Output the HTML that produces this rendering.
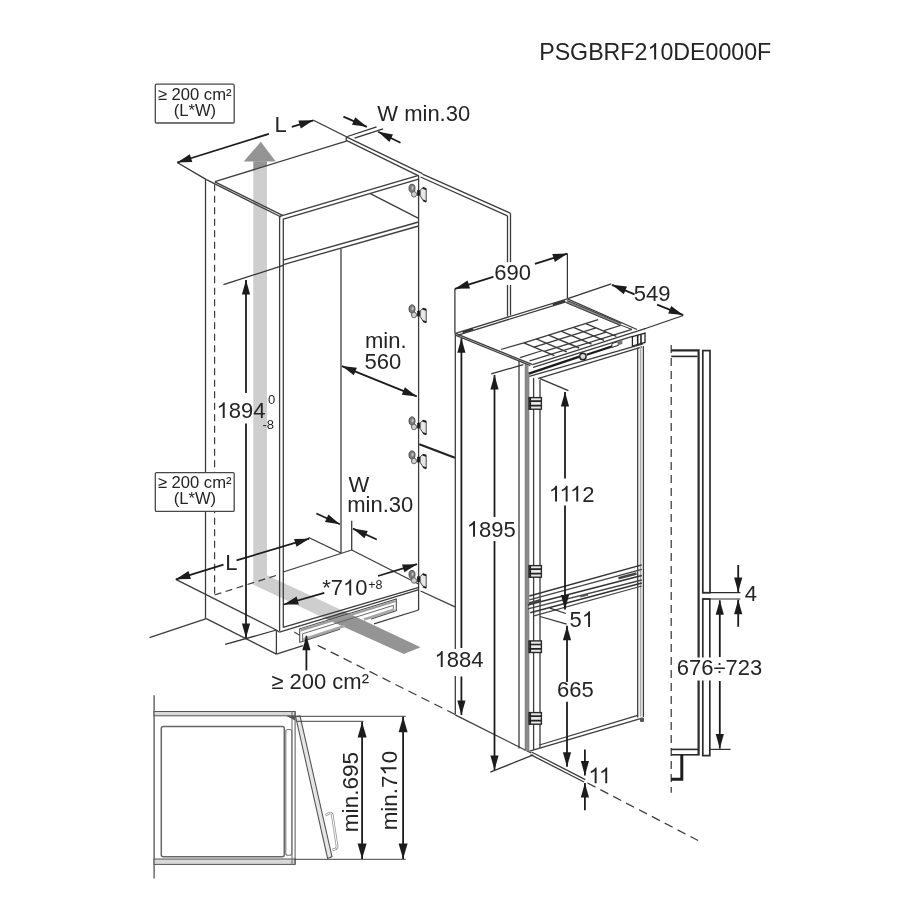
<!DOCTYPE html>
<html><head><meta charset="utf-8"><title>PSGBRF210DE0000F</title>
<style>html,body{margin:0;padding:0;background:#fff;}svg{display:block;font-family:"Liberation Sans",sans-serif;will-change:transform;transform:translateZ(0);filter:blur(0.45px);}</style></head>
<body><svg width="922" height="922" viewBox="0 0 922 922">
<rect width="922" height="922" fill="#fff"/>
<polygon points="260.8,141.8 275.7,161.6 243.7,161.6" fill="#949494"/>
<polygon points="253.3,161.2 267.0,161.2 267.0,165.6 253.3,169.9" fill="#949494"/>
<polygon points="253.3,169.9 267.0,165.6 267.0,575.2 253.3,584.7" fill="#cecece"/>
<polygon points="267.0,575.2 344.6,611.5 324.6,618.2 253.3,584.7" fill="#cecece"/>
<polygon points="344.6,611.5 420.6,647.3 403.9,654.1 324.6,618.2" fill="#949494"/>
<g><text x="539.20" y="59.6" font-size="23.2" fill="#242424">PSGBRF2</text><path class="g1" d="M763,0 L583,0 L583,-1147 Q518,-1085 412.5,-1023 Q307,-961 223,-930 L223,-1104 Q374,-1175 487,-1276 Q600,-1377 647,-1472 L763,-1472 Z" fill="#242424" transform="translate(647.50 59.6) scale(0.01133)"/><text x="660.40" y="59.6" font-size="23.2" fill="#242424">0DE0000F</text></g>
<line x1="177.2" y1="162.5" x2="206.4" y2="179.6" stroke="#333" stroke-width="1.25" stroke-linecap="butt"/>
<line x1="313.5" y1="120.3" x2="347.4" y2="137.2" stroke="#333" stroke-width="1.25" stroke-linecap="butt"/>
<line x1="206.4" y1="179.6" x2="281.0" y2="217.0" stroke="#3c3c3c" stroke-width="1.3" stroke-linecap="butt"/>
<line x1="214.9" y1="181.8" x2="283.0" y2="215.6" stroke="#3c3c3c" stroke-width="1.3" stroke-linecap="butt"/>
<line x1="214.9" y1="181.6" x2="346.3" y2="141.2" stroke="#3c3c3c" stroke-width="1.3" stroke-linecap="butt"/>
<line x1="346.3" y1="137.0" x2="346.3" y2="141.6" stroke="#3c3c3c" stroke-width="1.3" stroke-linecap="butt"/>
<line x1="346.8" y1="137.2" x2="422.5" y2="173.6" stroke="#3c3c3c" stroke-width="1.3" stroke-linecap="butt"/>
<line x1="346.8" y1="140.6" x2="418.6" y2="175.8" stroke="#3c3c3c" stroke-width="1.3" stroke-linecap="butt"/>
<line x1="205.5" y1="179.8" x2="205.5" y2="618.6" stroke="#3c3c3c" stroke-width="1.3" stroke-linecap="butt"/>
<line x1="214.6" y1="184.2" x2="214.6" y2="595.0" stroke="#3c3c3c" stroke-width="1.2" stroke-dasharray="7 4.5" stroke-linecap="butt"/>
<line x1="279.6" y1="216.2" x2="279.6" y2="631.0" stroke="#3c3c3c" stroke-width="1.3" stroke-linecap="butt"/>
<line x1="283.3" y1="218.8" x2="283.3" y2="627.6" stroke="#3c3c3c" stroke-width="1.3" stroke-linecap="butt"/>
<line x1="418.6" y1="175.4" x2="418.6" y2="610.0" stroke="#3c3c3c" stroke-width="1.3" stroke-linecap="butt"/>
<line x1="279.6" y1="216.4" x2="418.6" y2="175.4" stroke="#3c3c3c" stroke-width="1.3" stroke-linecap="butt"/>
<line x1="283.3" y1="219.2" x2="418.6" y2="179.2" stroke="#3c3c3c" stroke-width="1.3" stroke-linecap="butt"/>
<line x1="370.3" y1="193.7" x2="418.6" y2="218.3" stroke="#3c3c3c" stroke-width="1.3" stroke-linecap="butt"/>
<line x1="283.3" y1="260.2" x2="418.6" y2="222.0" stroke="#3c3c3c" stroke-width="1.3" stroke-linecap="butt"/>
<line x1="223.5" y1="284.7" x2="283.3" y2="265.3" stroke="#333" stroke-width="1.25" stroke-linecap="butt"/>
<line x1="283.3" y1="264.6" x2="418.6" y2="226.0" stroke="#3c3c3c" stroke-width="1.3" stroke-linecap="butt"/>
<line x1="341.0" y1="249.0" x2="341.0" y2="553.0" stroke="#3c3c3c" stroke-width="1.3" stroke-linecap="butt"/>
<line x1="351.7" y1="520.8" x2="351.7" y2="550.0" stroke="#3c3c3c" stroke-width="1.3" stroke-linecap="butt"/>
<line x1="283.3" y1="572.0" x2="351.7" y2="550.0" stroke="#3c3c3c" stroke-width="1.3" stroke-linecap="butt"/>
<line x1="351.7" y1="550.0" x2="418.6" y2="584.0" stroke="#3c3c3c" stroke-width="1.3" stroke-linecap="butt"/>
<line x1="308.6" y1="537.5" x2="341.0" y2="553.0" stroke="#333" stroke-width="1.25" stroke-linecap="butt"/>
<line x1="283.1" y1="627.3" x2="418.9" y2="587.4" stroke="#3c3c3c" stroke-width="1.3" stroke-linecap="butt"/>
<line x1="279.5" y1="632.2" x2="418.9" y2="589.7" stroke="#3c3c3c" stroke-width="1.3" stroke-linecap="butt"/>
<line x1="206.3" y1="618.6" x2="276.4" y2="654.1" stroke="#3c3c3c" stroke-width="1.3" stroke-linecap="butt"/>
<line x1="175.8" y1="579.3" x2="276.4" y2="630.0" stroke="#3c3c3c" stroke-width="1.3" stroke-linecap="butt"/>
<line x1="276.4" y1="630.0" x2="276.4" y2="654.1" stroke="#3c3c3c" stroke-width="1.3" stroke-linecap="butt"/>
<line x1="276.4" y1="630.0" x2="279.5" y2="632.2" stroke="#3c3c3c" stroke-width="1.3" stroke-linecap="butt"/>
<line x1="276.4" y1="654.1" x2="303.0" y2="645.7" stroke="#3c3c3c" stroke-width="1.3" stroke-linecap="butt"/>
<line x1="374.0" y1="623.8" x2="418.6" y2="610.0" stroke="#3c3c3c" stroke-width="1.3" stroke-linecap="butt"/>
<line x1="206.3" y1="618.6" x2="149.5" y2="637.7" stroke="#3c3c3c" stroke-width="1.3" stroke-linecap="butt"/>
<line x1="225.2" y1="644.4" x2="276.4" y2="630.0" stroke="#333" stroke-width="1.25" stroke-linecap="butt"/>
<line x1="214.6" y1="595.0" x2="280.0" y2="574.2" stroke="#3c3c3c" stroke-width="1.2" stroke-dasharray="7 4.5" stroke-linecap="butt"/>
<polyline points="299.7,642.4 299.7,628.8 396.3,598.9 396.3,611.1" fill="none" stroke="#4a4a4a" stroke-width="1.1" stroke-linejoin="miter"/>
<line x1="300.6" y1="630.4" x2="395.6" y2="601.0" stroke="#9c9c9c" stroke-width="2.2" stroke-linecap="butt"/>
<polyline points="302.6,640.8 302.6,633.8 393.4,605.4 393.4,611.6" fill="none" stroke="#666" stroke-width="1.0" stroke-linejoin="miter"/>
<line x1="303.2" y1="639.4" x2="345.0" y2="625.8" stroke="#a8a8a8" stroke-width="2.6" stroke-linecap="butt"/>
<line x1="364.0" y1="619.6" x2="394.4" y2="609.6" stroke="#a8a8a8" stroke-width="2.6" stroke-linecap="butt"/>
<line x1="299.7" y1="642.4" x2="340.1" y2="629.2" stroke="#4a4a4a" stroke-width="1.0" stroke-linecap="butt"/>
<line x1="371.0" y1="619.1" x2="396.3" y2="610.8" stroke="#4a4a4a" stroke-width="1.0" stroke-linecap="butt"/>
<line x1="294.2" y1="632.0" x2="299.7" y2="635.3" stroke="#4a4a4a" stroke-width="1.1" stroke-linecap="butt"/>
<line x1="422.5" y1="174.2" x2="510.5" y2="213.3" stroke="#3c3c3c" stroke-width="1.3" stroke-linecap="butt"/>
<line x1="420.5" y1="177.0" x2="507.5" y2="215.8" stroke="#3c3c3c" stroke-width="1.3" stroke-linecap="butt"/>
<line x1="507.5" y1="215.8" x2="507.5" y2="316.5" stroke="#3c3c3c" stroke-width="1.3" stroke-linecap="butt"/>
<line x1="510.5" y1="213.3" x2="510.5" y2="315.5" stroke="#3c3c3c" stroke-width="1.3" stroke-linecap="butt"/>
<line x1="419.3" y1="444.3" x2="454.9" y2="457.7" stroke="#222" stroke-width="2.2" stroke-linecap="butt"/>
<line x1="420.6" y1="591.0" x2="455.0" y2="606.8" stroke="#3c3c3c" stroke-width="1.3" stroke-linecap="butt"/>
<g transform="translate(418.6 192.3)"><ellipse cx="-6.6" cy="-4.0" rx="3.0" ry="4.1" fill="#7c7c7c" stroke="#444" stroke-width="0.9"/><ellipse cx="-6.0" cy="-4.4" rx="1.1" ry="1.8" fill="#c0c0c0"/><ellipse cx="-4.6" cy="2.0" rx="2.6" ry="2.8" fill="#d0d0d0" stroke="#5a5a5a" stroke-width="0.9"/><rect x="-1.5" y="-2.2" width="3.0" height="5.6" fill="#1e1e1e"/><path d="M1.6,-2.0 L4.2,-4.6 L7.6,-3.4 L7.6,9.4 L4.4,8.0 L1.6,3.4 Z" fill="#e8e8e8" stroke="#444" stroke-width="1.0"/><path d="M4.0,-4.4 L7.6,-3.2" stroke="#1e1e1e" stroke-width="2"/><path d="M4.4,8.0 L7.6,9.4" stroke="#1e1e1e" stroke-width="1.8"/></g>
<g transform="translate(418.6 313.0)"><ellipse cx="-6.6" cy="-4.0" rx="3.0" ry="4.1" fill="#7c7c7c" stroke="#444" stroke-width="0.9"/><ellipse cx="-6.0" cy="-4.4" rx="1.1" ry="1.8" fill="#c0c0c0"/><ellipse cx="-4.6" cy="2.0" rx="2.6" ry="2.8" fill="#d0d0d0" stroke="#5a5a5a" stroke-width="0.9"/><rect x="-1.5" y="-2.2" width="3.0" height="5.6" fill="#1e1e1e"/><path d="M1.6,-2.0 L4.2,-4.6 L7.6,-3.4 L7.6,9.4 L4.4,8.0 L1.6,3.4 Z" fill="#e8e8e8" stroke="#444" stroke-width="1.0"/><path d="M4.0,-4.4 L7.6,-3.2" stroke="#1e1e1e" stroke-width="2"/><path d="M4.4,8.0 L7.6,9.4" stroke="#1e1e1e" stroke-width="1.8"/></g>
<g transform="translate(418.6 425.0)"><ellipse cx="-6.6" cy="-4.0" rx="3.0" ry="4.1" fill="#7c7c7c" stroke="#444" stroke-width="0.9"/><ellipse cx="-6.0" cy="-4.4" rx="1.1" ry="1.8" fill="#c0c0c0"/><ellipse cx="-4.6" cy="2.0" rx="2.6" ry="2.8" fill="#d0d0d0" stroke="#5a5a5a" stroke-width="0.9"/><rect x="-1.5" y="-2.2" width="3.0" height="5.6" fill="#1e1e1e"/><path d="M1.6,-2.0 L4.2,-4.6 L7.6,-3.4 L7.6,9.4 L4.4,8.0 L1.6,3.4 Z" fill="#e8e8e8" stroke="#444" stroke-width="1.0"/><path d="M4.0,-4.4 L7.6,-3.2" stroke="#1e1e1e" stroke-width="2"/><path d="M4.4,8.0 L7.6,9.4" stroke="#1e1e1e" stroke-width="1.8"/></g>
<g transform="translate(418.6 459.0)"><ellipse cx="-6.6" cy="-4.0" rx="3.0" ry="4.1" fill="#7c7c7c" stroke="#444" stroke-width="0.9"/><ellipse cx="-6.0" cy="-4.4" rx="1.1" ry="1.8" fill="#c0c0c0"/><ellipse cx="-4.6" cy="2.0" rx="2.6" ry="2.8" fill="#d0d0d0" stroke="#5a5a5a" stroke-width="0.9"/><rect x="-1.5" y="-2.2" width="3.0" height="5.6" fill="#1e1e1e"/><path d="M1.6,-2.0 L4.2,-4.6 L7.6,-3.4 L7.6,9.4 L4.4,8.0 L1.6,3.4 Z" fill="#e8e8e8" stroke="#444" stroke-width="1.0"/><path d="M4.0,-4.4 L7.6,-3.2" stroke="#1e1e1e" stroke-width="2"/><path d="M4.4,8.0 L7.6,9.4" stroke="#1e1e1e" stroke-width="1.8"/></g>
<g transform="translate(418.6 578.5)"><ellipse cx="-6.6" cy="-4.0" rx="3.0" ry="4.1" fill="#7c7c7c" stroke="#444" stroke-width="0.9"/><ellipse cx="-6.0" cy="-4.4" rx="1.1" ry="1.8" fill="#c0c0c0"/><ellipse cx="-4.6" cy="2.0" rx="2.6" ry="2.8" fill="#d0d0d0" stroke="#5a5a5a" stroke-width="0.9"/><rect x="-1.5" y="-2.2" width="3.0" height="5.6" fill="#1e1e1e"/><path d="M1.6,-2.0 L4.2,-4.6 L7.6,-3.4 L7.6,9.4 L4.4,8.0 L1.6,3.4 Z" fill="#e8e8e8" stroke="#444" stroke-width="1.0"/><path d="M4.0,-4.4 L7.6,-3.2" stroke="#1e1e1e" stroke-width="2"/><path d="M4.4,8.0 L7.6,9.4" stroke="#1e1e1e" stroke-width="1.8"/></g>
<line x1="268.9" y1="133.8" x2="177.2" y2="162.5" stroke="#1c1c1c" stroke-width="1.8" stroke-linecap="butt"/>
<polygon points="177.2,162.5 189.8,154.3 192.3,162.1" fill="#1c1c1c"/>
<text x="274.6" y="131.8" font-size="22" text-anchor="start" fill="#242424">L</text>
<line x1="291.8" y1="126.8" x2="313.5" y2="120.3" stroke="#1c1c1c" stroke-width="1.8" stroke-linecap="butt"/>
<polygon points="313.5,120.3 300.8,128.4 298.4,120.5" fill="#1c1c1c"/>
<line x1="347.4" y1="136.5" x2="376.6" y2="126.8" stroke="#333" stroke-width="1.25" stroke-linecap="butt"/>
<line x1="354.6" y1="138.2" x2="383.1" y2="128.8" stroke="#333" stroke-width="1.25" stroke-linecap="butt"/>
<line x1="343.4" y1="116.6" x2="366.9" y2="126.8" stroke="#1c1c1c" stroke-width="1.8" stroke-linecap="butt"/>
<polygon points="366.9,126.8 352.0,124.8 355.2,117.3" fill="#1c1c1c"/>
<line x1="400.5" y1="142.7" x2="378.2" y2="131.8" stroke="#1c1c1c" stroke-width="1.8" stroke-linecap="butt"/>
<polygon points="378.2,131.8 393.0,134.5 389.4,141.9" fill="#1c1c1c"/>
<text x="377.3" y="121.0" font-size="22" text-anchor="start" fill="#242424">W min.30</text>
<line x1="246.0" y1="393.0" x2="246.0" y2="280.0" stroke="#1c1c1c" stroke-width="1.8" stroke-linecap="butt"/>
<polygon points="246.0,280.0 250.1,294.5 241.9,294.5" fill="#1c1c1c"/>
<line x1="246.0" y1="423.5" x2="246.0" y2="638.0" stroke="#1c1c1c" stroke-width="1.8" stroke-linecap="butt"/>
<polygon points="246.0,638.0 241.9,623.5 250.1,623.5" fill="#1c1c1c"/>
<g><path class="g1" d="M763,0 L583,0 L583,-1147 Q518,-1085 412.5,-1023 Q307,-961 223,-930 L223,-1104 Q374,-1175 487,-1276 Q600,-1377 647,-1472 L763,-1472 Z" fill="#242424" transform="translate(216.50 418.1) scale(0.01074)"/><text x="228.74" y="418.1" font-size="22" fill="#242424">894</text></g>
<text x="268.0" y="403.8" font-size="13" text-anchor="start" fill="#242424">0</text>
<text x="262.4" y="428.5" font-size="13" text-anchor="start" fill="#242424">-8</text>
<text x="365.0" y="347.6" font-size="22" text-anchor="start" fill="#242424">min.</text>
<text x="364.6" y="369.3" font-size="22" text-anchor="start" fill="#242424">560</text>
<line x1="341.9" y1="366.1" x2="416.8" y2="396.4" stroke="#1c1c1c" stroke-width="1.8" stroke-linecap="butt"/>
<polygon points="416.8,396.4 401.8,394.8 404.9,387.2" fill="#1c1c1c"/>
<polygon points="341.9,366.1 356.9,367.7 353.8,375.3" fill="#1c1c1c"/>
<line x1="223.5" y1="564.7" x2="175.8" y2="579.3" stroke="#1c1c1c" stroke-width="1.8" stroke-linecap="butt"/>
<polygon points="175.8,579.3 188.5,571.1 190.9,579.0" fill="#1c1c1c"/>
<text x="225.3" y="570.2" font-size="22" text-anchor="start" fill="#242424">L</text>
<line x1="236.5" y1="560.4" x2="309.2" y2="538.7" stroke="#1c1c1c" stroke-width="1.8" stroke-linecap="butt"/>
<polygon points="309.2,538.7 296.5,546.8 294.1,538.9" fill="#1c1c1c"/>
<text x="348.5" y="492.1" font-size="22" text-anchor="start" fill="#242424">W</text>
<text x="347.2" y="512.1" font-size="22" text-anchor="start" fill="#242424">min.30</text>
<line x1="316.4" y1="513.5" x2="339.9" y2="524.3" stroke="#1c1c1c" stroke-width="1.8" stroke-linecap="butt"/>
<polygon points="339.9,524.3 325.0,522.0 328.4,514.5" fill="#1c1c1c"/>
<line x1="376.8" y1="539.5" x2="352.9" y2="528.6" stroke="#1c1c1c" stroke-width="1.8" stroke-linecap="butt"/>
<polygon points="352.9,528.6 367.8,530.9 364.4,538.3" fill="#1c1c1c"/>
<g><text x="322.20" y="595.4" font-size="22" fill="#242424">*7</text><path class="g1" d="M763,0 L583,0 L583,-1147 Q518,-1085 412.5,-1023 Q307,-961 223,-930 L223,-1104 Q374,-1175 487,-1276 Q600,-1377 647,-1472 L763,-1472 Z" fill="#242424" transform="translate(343.00 595.4) scale(0.01074)"/><text x="355.23" y="595.4" font-size="22" fill="#242424">0</text></g>
<text x="368.2" y="588.7" font-size="12.5" text-anchor="start" fill="#242424">+8</text>
<line x1="324.3" y1="592.8" x2="283.8" y2="604.5" stroke="#1c1c1c" stroke-width="1.8" stroke-linecap="butt"/>
<polygon points="283.8,604.5 296.6,596.5 298.9,604.4" fill="#1c1c1c"/>
<line x1="378.0" y1="576.0" x2="417.1" y2="564.2" stroke="#1c1c1c" stroke-width="1.8" stroke-linecap="butt"/>
<polygon points="417.1,564.2 404.4,572.3 402.0,564.5" fill="#1c1c1c"/>
<text x="271.3" y="689.1" font-size="22" text-anchor="start" fill="#242424">≥ 200 cm²</text>
<line x1="306.4" y1="670.4" x2="306.4" y2="635.7" stroke="#1c1c1c" stroke-width="1.8" stroke-linecap="butt"/>
<polygon points="306.4,635.7 310.5,650.2 302.3,650.2" fill="#1c1c1c"/>
<line x1="317.7" y1="645.4" x2="455.2" y2="714.5" stroke="#3c3c3c" stroke-width="1.3" stroke-dasharray="9 5.5" stroke-linecap="butt"/>
<line x1="455.2" y1="714.8" x2="531.1" y2="753.0" stroke="#3c3c3c" stroke-width="1.3" stroke-linecap="butt"/>
<line x1="531.5" y1="752.0" x2="585.3" y2="779.6" stroke="#3c3c3c" stroke-width="1.3" stroke-linecap="butt"/>
<line x1="530.5" y1="754.6" x2="584.0" y2="782.0" stroke="#3c3c3c" stroke-width="1.3" stroke-linecap="butt"/>
<line x1="587.5" y1="783.0" x2="698.1" y2="840.5" stroke="#3c3c3c" stroke-width="1.3" stroke-dasharray="9 5.5" stroke-linecap="butt"/>
<line x1="495.6" y1="276.1" x2="454.9" y2="288.8" stroke="#1c1c1c" stroke-width="1.8" stroke-linecap="butt"/>
<polygon points="454.9,288.8 467.5,280.6 470.0,288.4" fill="#1c1c1c"/>
<line x1="534.9" y1="263.8" x2="567.4" y2="253.6" stroke="#1c1c1c" stroke-width="1.8" stroke-linecap="butt"/>
<polygon points="567.4,253.6 554.8,261.9 552.3,254.0" fill="#1c1c1c"/>
<rect x="493.5" y="262.2" width="38.5" height="22.8" fill="#fff"/>
<text x="494.3" y="280.0" font-size="22" text-anchor="start" fill="#242424">690</text>
<line x1="454.9" y1="288.8" x2="454.9" y2="333.5" stroke="#333" stroke-width="1.25" stroke-linecap="butt"/>
<line x1="567.4" y1="253.6" x2="567.4" y2="298.5" stroke="#333" stroke-width="1.25" stroke-linecap="butt"/>
<line x1="634.6" y1="294.3" x2="612.0" y2="284.8" stroke="#1c1c1c" stroke-width="1.8" stroke-linecap="butt"/>
<polygon points="612.0,284.8 627.0,286.6 623.8,294.2" fill="#1c1c1c"/>
<line x1="657.1" y1="304.7" x2="683.2" y2="315.1" stroke="#1c1c1c" stroke-width="1.8" stroke-linecap="butt"/>
<polygon points="683.2,315.1 668.2,313.5 671.2,305.9" fill="#1c1c1c"/>
<text x="633.8" y="300.9" font-size="22" text-anchor="start" fill="#242424">549</text>
<line x1="567.8" y1="298.6" x2="611.2" y2="283.9" stroke="#333" stroke-width="1.25" stroke-linecap="butt"/>
<line x1="644.1" y1="329.0" x2="683.2" y2="315.5" stroke="#333" stroke-width="1.25" stroke-linecap="butt"/>
<line x1="455.5" y1="333.3" x2="567.4" y2="298.9" stroke="#3c3c3c" stroke-width="1.3" stroke-linecap="butt"/>
<line x1="458.0" y1="335.1" x2="565.9" y2="301.8" stroke="#3c3c3c" stroke-width="1.3" stroke-linecap="butt"/>
<line x1="455.5" y1="333.3" x2="532.6" y2="364.7" stroke="#3c3c3c" stroke-width="1.3" stroke-linecap="butt"/>
<line x1="456.0" y1="335.3" x2="530.4" y2="365.7" stroke="#3c3c3c" stroke-width="1.3" stroke-linecap="butt"/>
<line x1="567.4" y1="298.9" x2="637.0" y2="329.5" stroke="#3c3c3c" stroke-width="1.3" stroke-linecap="butt"/>
<line x1="566.6" y1="301.6" x2="620.8" y2="324.4" stroke="#8a8a8a" stroke-width="3.0" stroke-linecap="butt"/>
<line x1="566.0" y1="302.6" x2="620.2" y2="325.4" stroke="#333" stroke-width="0.9" stroke-linecap="butt"/>
<line x1="567.4" y1="300.6" x2="621.4" y2="323.4" stroke="#333" stroke-width="0.9" stroke-linecap="butt"/>
<line x1="532.6" y1="364.7" x2="645.1" y2="328.6" stroke="#3c3c3c" stroke-width="1.3" stroke-linecap="butt"/>
<line x1="533.1" y1="367.3" x2="632.4" y2="336.3" stroke="#3c3c3c" stroke-width="1.3" stroke-linecap="butt"/>
<line x1="462.6" y1="332.2" x2="473.0" y2="329.0" stroke="#333" stroke-width="2.2" stroke-linecap="butt"/>
<line x1="552.8" y1="304.8" x2="565.0" y2="301.0" stroke="#333" stroke-width="2.2" stroke-linecap="butt"/>
<line x1="500.9" y1="349.5" x2="523.8" y2="342.8" stroke="#3a3a3a" stroke-width="1.2" stroke-linecap="butt"/>
<line x1="520.0" y1="357.6" x2="541.8" y2="350.8" stroke="#3a3a3a" stroke-width="1.2" stroke-linecap="butt"/>
<line x1="529.6" y1="360.9" x2="632.0" y2="329.4" stroke="#3a3a3a" stroke-width="1.1" stroke-linecap="butt"/>
<line x1="523.8" y1="342.8" x2="554.4" y2="355.7" stroke="#3a3a3a" stroke-width="1.4" stroke-linecap="butt"/>
<line x1="536.2" y1="338.9" x2="566.8" y2="351.8" stroke="#3a3a3a" stroke-width="1.4" stroke-linecap="butt"/>
<line x1="548.6" y1="335.1" x2="579.2" y2="348.0" stroke="#3a3a3a" stroke-width="1.4" stroke-linecap="butt"/>
<line x1="561.0" y1="331.2" x2="591.6" y2="344.1" stroke="#3a3a3a" stroke-width="1.4" stroke-linecap="butt"/>
<line x1="573.4" y1="327.4" x2="604.0" y2="340.3" stroke="#3a3a3a" stroke-width="1.4" stroke-linecap="butt"/>
<line x1="585.8" y1="323.6" x2="616.4" y2="336.4" stroke="#3a3a3a" stroke-width="1.4" stroke-linecap="butt"/>
<line x1="523.8" y1="342.8" x2="598.2" y2="319.7" stroke="#3a3a3a" stroke-width="1.4" stroke-linecap="butt"/>
<line x1="534.0" y1="347.1" x2="596.0" y2="327.9" stroke="#3a3a3a" stroke-width="1.4" stroke-linecap="butt"/>
<line x1="544.2" y1="351.4" x2="606.2" y2="332.2" stroke="#3a3a3a" stroke-width="1.4" stroke-linecap="butt"/>
<line x1="604.0" y1="330.6" x2="621.1" y2="325.3" stroke="#3a3a3a" stroke-width="1.2" stroke-linecap="butt"/>
<line x1="621.1" y1="325.3" x2="632.0" y2="329.4" stroke="#3a3a3a" stroke-width="1.0" stroke-linecap="butt"/>
<line x1="528.9" y1="373.6" x2="579.4" y2="356.6" stroke="#1c1c1c" stroke-width="2.4" stroke-linecap="butt"/>
<line x1="586.6" y1="354.8" x2="618.2" y2="344.4" stroke="#1c1c1c" stroke-width="2.2" stroke-linecap="butt"/>
<line x1="529.2" y1="376.4" x2="643.1" y2="343.8" stroke="#3c3c3c" stroke-width="1.3" stroke-linecap="butt"/>
<line x1="538.0" y1="378.6" x2="642.1" y2="346.9" stroke="#3c3c3c" stroke-width="1.3" stroke-linecap="butt"/>
<circle cx="582.9" cy="356.5" r="3.2" fill="#d8d8d8" stroke="#222" stroke-width="1.4"/>
<polygon points="611.9,343.6 618.2,341.6 618.2,345.4 611.9,347.4" fill="#fff" stroke="#333" stroke-width="1"/>
<polygon points="618.9,341.2 622.4,340.1 622.4,343.9 618.9,345.0" fill="#777"/>
<polygon points="632.4,336.6 645.0,333.0 645.0,342.4 632.4,346.0" fill="#fff" stroke="#222" stroke-width="1.3"/>
<line x1="637.7" y1="335.2" x2="637.7" y2="344.6" stroke="#222" stroke-width="1.6" stroke-linecap="butt"/>
<line x1="641.0" y1="334.2" x2="641.0" y2="343.6" stroke="#222" stroke-width="1.6" stroke-linecap="butt"/>
<line x1="455.3" y1="333.5" x2="455.3" y2="714.3" stroke="#3c3c3c" stroke-width="1.3" stroke-linecap="butt"/>
<line x1="519.0" y1="360.8" x2="519.0" y2="748.5" stroke="#3c3c3c" stroke-width="1.3" stroke-linecap="butt"/>
<line x1="527.0" y1="365.0" x2="527.0" y2="751.0" stroke="#8c8c8c" stroke-width="3.0" stroke-linecap="butt"/>
<line x1="525.3" y1="364.0" x2="525.3" y2="751.0" stroke="#555" stroke-width="0.8" stroke-linecap="butt"/>
<line x1="528.8" y1="372.0" x2="528.8" y2="751.0" stroke="#555" stroke-width="0.8" stroke-linecap="butt"/>
<line x1="533.6" y1="378.0" x2="533.6" y2="750.0" stroke="#3c3c3c" stroke-width="1.3" stroke-linecap="butt"/>
<line x1="540.0" y1="380.0" x2="540.0" y2="748.0" stroke="#3c3c3c" stroke-width="1.3" stroke-linecap="butt"/>
<line x1="637.7" y1="347.7" x2="637.7" y2="717.5" stroke="#3c3c3c" stroke-width="1.3" stroke-linecap="butt"/>
<line x1="640.6" y1="347.0" x2="640.6" y2="716.5" stroke="#aaa" stroke-width="1.6" stroke-linecap="butt"/>
<line x1="643.4" y1="346.0" x2="643.4" y2="717.0" stroke="#3c3c3c" stroke-width="1.3" stroke-linecap="butt"/>
<g transform="translate(529 397.6)"><rect x="0" y="0" width="12.4" height="11.6" fill="#e8e8e8" stroke="#2a2a2a" stroke-width="1.4"/><path d="M0,3.6 H12 M0,8.0 H12 M1.2,0 V11.6" stroke="#222" stroke-width="1.7" fill="none"/></g>
<g transform="translate(529 565.6)"><rect x="0" y="0" width="12.4" height="11.6" fill="#e8e8e8" stroke="#2a2a2a" stroke-width="1.4"/><path d="M0,3.6 H12 M0,8.0 H12 M1.2,0 V11.6" stroke="#222" stroke-width="1.7" fill="none"/></g>
<g transform="translate(529 640.9)"><rect x="0" y="0" width="12.4" height="11.6" fill="#e8e8e8" stroke="#2a2a2a" stroke-width="1.4"/><path d="M0,3.6 H12 M0,8.0 H12 M1.2,0 V11.6" stroke="#222" stroke-width="1.7" fill="none"/></g>
<g transform="translate(529 712.6)"><rect x="0" y="0" width="12.4" height="11.6" fill="#e8e8e8" stroke="#2a2a2a" stroke-width="1.4"/><path d="M0,3.6 H12 M0,8.0 H12 M1.2,0 V11.6" stroke="#222" stroke-width="1.7" fill="none"/></g>
<line x1="529.4" y1="596.0" x2="641.8" y2="564.9" stroke="#333" stroke-width="1.5" stroke-linecap="butt"/>
<line x1="529.4" y1="599.8" x2="641.8" y2="569.4" stroke="#444" stroke-width="1.3" stroke-linecap="butt"/>
<line x1="527.9" y1="605.1" x2="641.8" y2="575.5" stroke="#333" stroke-width="1.5" stroke-linecap="butt"/>
<line x1="527.9" y1="608.9" x2="641.8" y2="580.0" stroke="#444" stroke-width="1.3" stroke-linecap="butt"/>
<line x1="530.2" y1="612.7" x2="641.8" y2="583.0" stroke="#333" stroke-width="1.5" stroke-linecap="butt"/>
<line x1="534.0" y1="615.9" x2="641.8" y2="586.0" stroke="#444" stroke-width="1.2" stroke-linecap="butt"/>
<line x1="529.0" y1="603.4" x2="541.0" y2="600.0" stroke="#444" stroke-width="2.6" stroke-linecap="butt"/>
<line x1="618.5" y1="578.3" x2="636.5" y2="573.4" stroke="#444" stroke-width="2.6" stroke-linecap="butt"/>
<line x1="580.3" y1="596.6" x2="588.0" y2="594.5" stroke="#555" stroke-width="2.0" stroke-linecap="butt"/>
<line x1="529.5" y1="751.2" x2="640.5" y2="718.6" stroke="#3c3c3c" stroke-width="1.3" stroke-linecap="butt"/>
<line x1="539.5" y1="745.0" x2="637.7" y2="715.4" stroke="#3c3c3c" stroke-width="1.3" stroke-linecap="butt"/>
<rect x="640.0" y="717.6" width="4" height="4.4" rx="1" fill="#555"/>
<line x1="461.4" y1="648.0" x2="461.4" y2="338.2" stroke="#1c1c1c" stroke-width="1.8" stroke-linecap="butt"/>
<polygon points="461.4,338.2 465.5,352.7 457.3,352.7" fill="#1c1c1c"/>
<line x1="461.4" y1="676.5" x2="461.4" y2="715.0" stroke="#1c1c1c" stroke-width="1.8" stroke-linecap="butt"/>
<polygon points="461.4,715.0 457.3,700.5 465.5,700.5" fill="#1c1c1c"/>
<rect x="435.0" y="649.0" width="51.0" height="27.0" fill="#fff"/>
<g><path class="g1" d="M763,0 L583,0 L583,-1147 Q518,-1085 412.5,-1023 Q307,-961 223,-930 L223,-1104 Q374,-1175 487,-1276 Q600,-1377 647,-1472 L763,-1472 Z" fill="#242424" transform="translate(434.50 666.9) scale(0.01074)"/><text x="446.74" y="666.9" font-size="22" fill="#242424">884</text></g>
<line x1="494.5" y1="517.0" x2="494.5" y2="375.0" stroke="#1c1c1c" stroke-width="1.8" stroke-linecap="butt"/>
<polygon points="494.5,375.0 498.6,389.5 490.4,389.5" fill="#1c1c1c"/>
<line x1="494.5" y1="541.0" x2="494.5" y2="770.0" stroke="#1c1c1c" stroke-width="1.8" stroke-linecap="butt"/>
<polygon points="494.5,770.0 490.4,755.5 498.6,755.5" fill="#1c1c1c"/>
<g><path class="g1" d="M763,0 L583,0 L583,-1147 Q518,-1085 412.5,-1023 Q307,-961 223,-930 L223,-1104 Q374,-1175 487,-1276 Q600,-1377 647,-1472 L763,-1472 Z" fill="#242424" transform="translate(466.80 536.8) scale(0.01074)"/><text x="479.04" y="536.8" font-size="22" fill="#242424">895</text></g>
<line x1="491.2" y1="373.8" x2="523.3" y2="364.7" stroke="#333" stroke-width="1.25" stroke-linecap="butt"/>
<line x1="490.3" y1="772.2" x2="533.3" y2="754.8" stroke="#333" stroke-width="1.25" stroke-linecap="butt"/>
<line x1="565.0" y1="478.5" x2="565.0" y2="392.0" stroke="#1c1c1c" stroke-width="1.8" stroke-linecap="butt"/>
<polygon points="565.0,392.0 569.1,406.5 560.9,406.5" fill="#1c1c1c"/>
<line x1="565.0" y1="505.5" x2="565.0" y2="609.4" stroke="#1c1c1c" stroke-width="1.8" stroke-linecap="butt"/>
<polygon points="565.0,609.4 560.9,594.9 569.1,594.9" fill="#1c1c1c"/>
<g><path class="g1" d="M763,0 L583,0 L583,-1147 Q518,-1085 412.5,-1023 Q307,-961 223,-930 L223,-1104 Q374,-1175 487,-1276 Q600,-1377 647,-1472 L763,-1472 Z" fill="#242424" transform="translate(548.80 501.6) scale(0.01074)"/><path class="g1" d="M763,0 L583,0 L583,-1147 Q518,-1085 412.5,-1023 Q307,-961 223,-930 L223,-1104 Q374,-1175 487,-1276 Q600,-1377 647,-1472 L763,-1472 Z" fill="#242424" transform="translate(559.41 501.6) scale(0.01074)"/><path class="g1" d="M763,0 L583,0 L583,-1147 Q518,-1085 412.5,-1023 Q307,-961 223,-930 L223,-1104 Q374,-1175 487,-1276 Q600,-1377 647,-1472 L763,-1472 Z" fill="#242424" transform="translate(570.01 501.6) scale(0.01074)"/><text x="582.25" y="501.6" font-size="22" fill="#242424">2</text></g>
<line x1="539.4" y1="378.3" x2="568.4" y2="390.6" stroke="#333" stroke-width="1.25" stroke-linecap="butt"/>
<line x1="549.9" y1="608.1" x2="565.9" y2="613.5" stroke="#333" stroke-width="1.25" stroke-linecap="butt"/>
<g><text x="569.60" y="627.0" font-size="22" fill="#242424">5</text><path class="g1" d="M763,0 L583,0 L583,-1147 Q518,-1085 412.5,-1023 Q307,-961 223,-930 L223,-1104 Q374,-1175 487,-1276 Q600,-1377 647,-1472 L763,-1472 Z" fill="#242424" transform="translate(581.84 627.0) scale(0.01074)"/></g>
<line x1="540.0" y1="616.5" x2="566.6" y2="624.1" stroke="#333" stroke-width="1.25" stroke-linecap="butt"/>
<line x1="567.0" y1="682.0" x2="567.0" y2="625.7" stroke="#1c1c1c" stroke-width="1.8" stroke-linecap="butt"/>
<polygon points="567.0,625.7 571.1,640.2 562.9,640.2" fill="#1c1c1c"/>
<line x1="567.0" y1="701.7" x2="567.0" y2="766.8" stroke="#1c1c1c" stroke-width="1.8" stroke-linecap="butt"/>
<polygon points="567.0,766.8 562.9,752.3 571.1,752.3" fill="#1c1c1c"/>
<text x="557.1" y="697.3" font-size="22" text-anchor="start" fill="#242424">665</text>
<line x1="584.9" y1="749.4" x2="584.9" y2="775.4" stroke="#1c1c1c" stroke-width="1.8" stroke-linecap="butt"/>
<polygon points="584.9,775.4 580.8,760.9 589.0,760.9" fill="#1c1c1c"/>
<line x1="584.9" y1="810.2" x2="584.9" y2="783.0" stroke="#1c1c1c" stroke-width="1.8" stroke-linecap="butt"/>
<polygon points="584.9,783.0 589.0,797.5 580.8,797.5" fill="#1c1c1c"/>
<g><path class="g1" d="M763,0 L583,0 L583,-1147 Q518,-1085 412.5,-1023 Q307,-961 223,-930 L223,-1104 Q374,-1175 487,-1276 Q600,-1377 647,-1472 L763,-1472 Z" fill="#242424" transform="translate(588.40 783.2) scale(0.01074)"/><path class="g1" d="M763,0 L583,0 L583,-1147 Q518,-1085 412.5,-1023 Q307,-961 223,-930 L223,-1104 Q374,-1175 487,-1276 Q600,-1377 647,-1472 L763,-1472 Z" fill="#242424" transform="translate(599.01 783.2) scale(0.01074)"/></g>
<line x1="671.2" y1="345.0" x2="671.2" y2="792.8" stroke="#333" stroke-width="1.2" stroke-dasharray="8 5" stroke-linecap="butt"/>
<polyline points="671.2,350.4 698.6,350.4 698.6,754.8" fill="none" stroke="#2a2a2a" stroke-width="2.2" stroke-linejoin="miter"/>
<line x1="671.2" y1="356.4" x2="697.5" y2="356.4" stroke="#2a2a2a" stroke-width="1.6" stroke-linecap="butt"/>
<rect x="702.8" y="350.6" width="7.2" height="242.1" fill="none" stroke="#2a2a2a" stroke-width="1.7"/>
<rect x="702.8" y="599.0" width="7.0" height="156.6" fill="none" stroke="#2a2a2a" stroke-width="1.7"/>
<line x1="702.4" y1="592.7" x2="740.4" y2="592.7" stroke="#2a2a2a" stroke-width="1.2" stroke-linecap="butt"/>
<line x1="702.4" y1="599.0" x2="740.4" y2="599.0" stroke="#2a2a2a" stroke-width="1.2" stroke-linecap="butt"/>
<line x1="671.2" y1="749.4" x2="698.6" y2="749.4" stroke="#2a2a2a" stroke-width="1.6" stroke-linecap="butt"/>
<line x1="671.2" y1="754.8" x2="699.6" y2="754.8" stroke="#2a2a2a" stroke-width="1.6" stroke-linecap="butt"/>
<polyline points="681.8,754.8 681.8,779.3 671.2,779.3" fill="none" stroke="#1e1e1e" stroke-width="3.0" stroke-linejoin="miter"/>
<line x1="709.8" y1="749.4" x2="730.6" y2="749.4" stroke="#333" stroke-width="1.25" stroke-linecap="butt"/>
<line x1="738.2" y1="565.0" x2="738.2" y2="592.0" stroke="#1c1c1c" stroke-width="1.8" stroke-linecap="butt"/>
<polygon points="738.2,592.0 734.1,577.5 742.3,577.5" fill="#1c1c1c"/>
<line x1="738.2" y1="626.8" x2="738.2" y2="599.7" stroke="#1c1c1c" stroke-width="1.8" stroke-linecap="butt"/>
<polygon points="738.2,599.7 742.3,614.2 734.1,614.2" fill="#1c1c1c"/>
<text x="744.7" y="600.7" font-size="22" text-anchor="start" fill="#242424">4</text>
<line x1="719.8" y1="657.0" x2="719.8" y2="600.3" stroke="#1c1c1c" stroke-width="1.8" stroke-linecap="butt"/>
<polygon points="719.8,600.3 723.9,614.8 715.7,614.8" fill="#1c1c1c"/>
<line x1="719.8" y1="681.0" x2="719.8" y2="748.6" stroke="#1c1c1c" stroke-width="1.8" stroke-linecap="butt"/>
<polygon points="719.8,748.6 715.7,734.1 723.9,734.1" fill="#1c1c1c"/>
<rect x="676.0" y="657.5" width="88.0" height="23.0" fill="#fff"/>
<text x="676.8" y="674.9" font-size="22" text-anchor="start" fill="#242424">676÷723</text>
<line x1="154.1" y1="695.2" x2="154.1" y2="878.5" stroke="#444" stroke-width="1.2" stroke-linecap="butt"/>
<rect x="154.1" y="711.5" width="141" height="4.3" fill="#d8d8d8" stroke="#555" stroke-width="1"/>
<rect x="154.1" y="859.0" width="141" height="5.4" fill="#d8d8d8" stroke="#555" stroke-width="1"/>
<line x1="292.0" y1="711.5" x2="292.0" y2="864.4" stroke="#666" stroke-width="1" stroke-linecap="butt"/>
<line x1="295.1" y1="711.5" x2="295.1" y2="864.4" stroke="#555" stroke-width="1" stroke-linecap="butt"/>
<rect x="161.3" y="726.6" width="123" height="130.2" rx="2" fill="none" stroke="#666" stroke-width="1.5"/>
<rect x="285.8" y="729.5" width="6" height="125.8" rx="2" fill="none" stroke="#777" stroke-width="1.1"/>
<polygon points="295.6,716.5 300.0,715.8 332.0,856.6 327.6,858.4" fill="#e6e6e6" stroke="#555" stroke-width="1.1" stroke-linejoin="miter"/>
<path d="M286,715.8 L295,720.5 L295,716 Z" fill="#555"/>
<path d="M325.2,815.4 L329.4,813.2 Q331.6,812.4 332.2,814.6 L337.0,846.0 Q337.2,848.4 335.4,849.0 L332.4,850.0" fill="none" stroke="#999" stroke-width="2.6"/>
<path d="M325.2,815.4 L329.4,813.2 Q331.6,812.4 332.2,814.6 L337.0,846.0 Q337.2,848.4 335.4,849.0 L332.4,850.0" fill="none" stroke="#fff" stroke-width="1"/>
<line x1="295.1" y1="716.3" x2="405.8" y2="716.3" stroke="#444" stroke-width="1" stroke-linecap="butt"/>
<line x1="297.0" y1="721.3" x2="363.5" y2="721.3" stroke="#444" stroke-width="1" stroke-linecap="butt"/>
<line x1="294.4" y1="859.3" x2="405.8" y2="859.3" stroke="#444" stroke-width="1" stroke-linecap="butt"/>
<line x1="362.1" y1="790.0" x2="362.1" y2="722.0" stroke="#1c1c1c" stroke-width="1.8" stroke-linecap="butt"/>
<polygon points="362.1,722.0 366.6,737.5 357.6,737.5" fill="#1c1c1c"/>
<line x1="362.1" y1="790.0" x2="362.1" y2="859.1" stroke="#1c1c1c" stroke-width="1.8" stroke-linecap="butt"/>
<polygon points="362.1,859.1 357.6,843.6 366.6,843.6" fill="#1c1c1c"/>
<line x1="403.1" y1="790.0" x2="403.1" y2="716.8" stroke="#1c1c1c" stroke-width="1.8" stroke-linecap="butt"/>
<polygon points="403.1,716.8 407.6,732.3 398.6,732.3" fill="#1c1c1c"/>
<line x1="403.1" y1="790.0" x2="403.1" y2="859.1" stroke="#1c1c1c" stroke-width="1.8" stroke-linecap="butt"/>
<polygon points="403.1,859.1 398.6,843.6 407.6,843.6" fill="#1c1c1c"/>
<text x="358.4" y="792.0" font-size="22.6" text-anchor="middle" fill="#242424" transform="rotate(-90 358.4 792.0)">min.695</text>
<g transform="rotate(-90 396.5 790.5)"><text x="356.65" y="790.5" font-size="22.4" fill="#242424">min.7</text><path class="g1" d="M763,0 L583,0 L583,-1147 Q518,-1085 412.5,-1023 Q307,-961 223,-930 L223,-1104 Q374,-1175 487,-1276 Q600,-1377 647,-1472 L763,-1472 Z" fill="#242424" transform="translate(411.43 790.5) scale(0.01094)"/><text x="423.89" y="790.5" font-size="22.4" fill="#242424">0</text></g>
<rect x="155.3" y="84.2" width="78.9" height="38.8" rx="1.2" fill="#fff" stroke="#484848" stroke-width="1.3"/>
<text x="194.7" y="100.2" font-size="16.6" text-anchor="middle" fill="#242424">≥ 200 cm²</text>
<text x="194.9" y="115.7" font-size="16.6" text-anchor="middle" fill="#242424">(L*W)</text>
<rect x="155.3" y="472.6" width="78.9" height="38.8" rx="1.2" fill="#fff" stroke="#484848" stroke-width="1.3"/>
<text x="194.7" y="488.4" font-size="16.6" text-anchor="middle" fill="#242424">≥ 200 cm²</text>
<text x="194.9" y="504.0" font-size="16.6" text-anchor="middle" fill="#242424">(L*W)</text>
</svg></body></html>
